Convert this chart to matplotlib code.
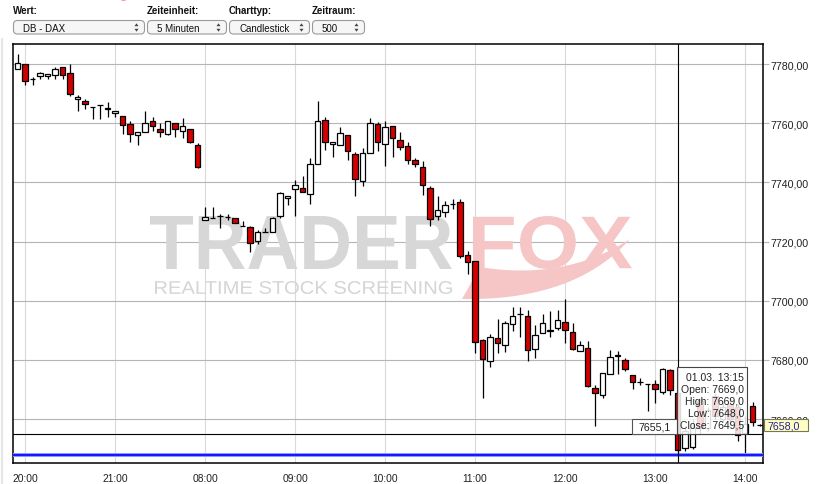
import matplotlib
matplotlib.use("Agg")
import matplotlib.pyplot as plt
import matplotlib.transforms as mtransforms
from matplotlib.patches import Rectangle, FancyBboxPatch, PathPatch, Ellipse, Polygon
from matplotlib.textpath import TextPath
from matplotlib.font_manager import FontProperties
from matplotlib.path import Path
import numpy as np

plt.rcParams['font.family'] = ['Liberation Sans', 'DejaVu Sans']

# ---------------- data ----------------
def session(start_h, start_m, n):
    out = []
    for k in range(n):
        t = start_h * 60 + start_m + 5 * k
        out.append(f"{t // 60:02d}:{t % 60:02d}")
    return out

times = session(19, 55, 25) + session(8, 0, 75)

opens = [7778.2, 7779.9, 7775.0, 7775.8, 7776.0, 7776.2, 7778.9, 7776.9, 7768.3, 7767.4,
         7765.5, 7766.0, 7764.8, 7763.5, 7762.3, 7759.6, 7755.9, 7756.9, 7760.6, 7757.9,
         7756.2, 7760.0, 7757.3, 7757.9, 7752.5, 7727.2, 7727.9, 7728.6, 7728.3, 7727.9,
         7725.3, 7724.8, 7720.1, 7723.1, 7723.1, 7728.5, 7734.8, 7737.7, 7738.0, 7736.0,
         7746.1, 7761.0, 7753.0, 7752.5, 7755.9, 7749.5, 7740.4, 7749.8, 7759.6, 7752.9,
         7759.0, 7754.2, 7752.2, 7747.5, 7745.1, 7738.0, 7728.5, 7730.0, 7732.6, 7733.3,
         7715.4, 7713.3, 7686.7, 7679.6, 7687.4, 7685.0, 7692.1, 7695.5, 7694.9, 7683.6,
         7689.0, 7689.8, 7690.8, 7692.7, 7689.4, 7683.2, 7684.2, 7670.6, 7668.1, 7675.3,
         7681.3, 7680.1, 7675.0, 7672.4, 7671.9, 7671.9, 7669.2, 7676.7, 7669.0, 7650.3,
         7650.5, 7666.0, 7657.0, 7668.0, 7660.0, 7665.0, 7664.0, 7655.5, 7664.6, 7658.0]
highs = [7783.4, 7780.0, 7775.7, 7777.3, 7776.5, 7778.9, 7778.9, 7780.0, 7769.5, 7768.2,
         7765.5, 7766.0, 7767.2, 7764.0, 7762.3, 7760.6, 7756.9, 7764.0, 7762.1, 7760.0,
         7760.8, 7760.0, 7761.8, 7757.9, 7753.2, 7731.6, 7731.7, 7729.2, 7729.2, 7727.9,
         7726.9, 7725.2, 7723.8, 7724.5, 7728.3, 7736.7, 7735.5, 7740.8, 7742.2, 7748.1,
         7767.4, 7762.0, 7753.6, 7758.7, 7756.0, 7750.4, 7751.5, 7761.8, 7760.3, 7760.6,
         7759.2, 7756.9, 7753.6, 7748.1, 7747.1, 7738.7, 7735.3, 7733.6, 7734.3, 7734.3,
         7716.7, 7713.5, 7687.0, 7688.7, 7693.8, 7693.1, 7698.0, 7698.0, 7696.9, 7691.7,
         7695.5, 7696.5, 7696.9, 7700.6, 7692.6, 7686.3, 7686.3, 7671.5, 7675.7, 7683.4,
         7683.2, 7680.7, 7675.0, 7674.0, 7671.9, 7673.2, 7677.3, 7677.1, 7669.0, 7657.0,
         7660.0, 7667.0, 7664.0, 7669.0, 7666.0, 7667.0, 7665.0, 7661.0, 7665.7, 7658.5]
lows = [7778.2, 7773.0, 7773.0, 7775.0, 7775.0, 7775.0, 7775.0, 7769.3, 7764.2, 7764.7,
        7761.3, 7761.3, 7762.2, 7762.0, 7756.2, 7753.8, 7752.8, 7756.9, 7757.3, 7755.2,
        7756.0, 7755.2, 7754.9, 7753.3, 7745.0, 7727.2, 7727.9, 7724.5, 7727.4, 7726.2,
        7725.3, 7716.6, 7719.3, 7723.1, 7723.1, 7727.9, 7732.5, 7728.8, 7736.6, 7732.6,
        7746.1, 7750.8, 7748.7, 7752.5, 7747.5, 7735.5, 7738.9, 7749.8, 7750.7, 7745.7,
        7748.7, 7750.9, 7746.1, 7745.1, 7735.6, 7725.2, 7727.2, 7728.2, 7730.9, 7714.4,
        7709.0, 7682.3, 7667.1, 7677.5, 7682.3, 7682.6, 7689.7, 7687.7, 7679.6, 7680.6,
        7689.0, 7687.7, 7690.0, 7685.7, 7683.4, 7683.2, 7671.0, 7657.6, 7667.2, 7675.3,
        7675.3, 7676.3, 7670.3, 7671.4, 7662.8, 7665.4, 7668.6, 7668.2, 7648.0, 7649.4,
        7650.0, 7655.0, 7656.0, 7660.0, 7659.0, 7658.0, 7652.6, 7648.0, 7657.8, 7657.6]
closes = [7780.2, 7774.2, 7775.0, 7776.9, 7776.5, 7778.2, 7776.2, 7769.8, 7768.8, 7766.4,
          7765.5, 7766.0, 7765.3, 7764.0, 7759.3, 7756.4, 7756.9, 7760.0, 7759.0, 7756.9,
          7760.6, 7757.9, 7759.0, 7753.6, 7745.1, 7728.2, 7727.9, 7728.6, 7728.3, 7726.2,
          7725.3, 7719.4, 7723.1, 7723.1, 7727.9, 7736.3, 7735.3, 7739.0, 7736.6, 7746.1,
          7760.6, 7753.6, 7753.5, 7756.6, 7750.5, 7741.0, 7750.0, 7760.0, 7753.6, 7758.6,
          7754.9, 7751.9, 7747.5, 7746.1, 7739.0, 7727.6, 7730.6, 7732.3, 7732.6, 7715.1,
          7713.0, 7686.0, 7680.3, 7687.7, 7685.7, 7692.4, 7694.9, 7695.5, 7683.3, 7688.3,
          7692.4, 7690.3, 7693.4, 7690.0, 7683.7, 7685.2, 7671.2, 7668.9, 7675.7, 7681.1,
          7681.8, 7677.1, 7672.4, 7672.4, 7671.9, 7670.1, 7677.1, 7669.8, 7649.5, 7656.0,
          7657.0, 7657.0, 7663.0, 7661.0, 7664.0, 7660.0, 7654.6, 7658.5, 7659.0, 7658.0]

xtick_labels = ["20:00", "21:00", "08:00", "09:00", "10:00", "11:00", "12:00", "13:00", "14:00"]
ytick_values = [7660, 7680, 7700, 7720, 7740, 7760, 7780]
ytick_labels = [f"{v:.2f}".replace(".", ",") for v in ytick_values]

tooltip_date = "01.03."
tooltip_time = "13:15"
marker_level = 7655.1
low_line = 7648.0

wert_label, wert_value = "Wert:", "DB - DAX"
zeit_label, zeit_value = "Zeiteinheit:", "5 Minuten"
typ_label, typ_value = "Charttyp:", "Candlestick"
raum_label, raum_value = "Zeitraum:", "500"

# ---------------- figure ----------------
W, H = 822, 485
fig = plt.figure(figsize=(W / 100, H / 100), dpi=100)
fig.patch.set_facecolor("white")
px = mtransforms.Affine2D().scale(1 / W, -1 / H).translate(0, 1) + fig.transFigure

AX_L, AX_R, AX_T, AX_B = 13, 763, 45, 464
ax = fig.add_axes([AX_L / W, (H - AX_B) / H, (AX_R - AX_L) / W, (AX_B - AX_T) / H])
YMIN, YMAX = 7645.2, 7786.76
ax.set_xlim(-0.6, 99.4)
ax.set_ylim(YMIN, YMAX)

def ypx(v):
    return AX_B - (v - YMIN) / (YMAX - YMIN) * (AX_B - AX_T)

idx = np.arange(len(times))
O = np.array(opens); Hh = np.array(highs); L = np.array(lows); C = np.array(closes)

ax.set_axisbelow(True)
ax.set_yticks(ytick_values)
ax.set_yticklabels(ytick_labels)
ax.yaxis.tick_right()
xt = [times.index(t) for t in xtick_labels]
ax.set_xticks(xt)
ax.set_xticklabels(xtick_labels)
ax.grid(axis="y", color="#b5b5b5", lw=0.8)
ax.grid(axis="x", color="#dadada", lw=0.8)
ax.tick_params(axis="y", length=4, width=0.8, color="#b5b5b5", pad=1.5, labelsize=7.7, labelcolor="#222222")
ax.tick_params(axis="x", length=0, pad=7, labelsize=7.4, labelcolor="#222222")
for s in ax.spines.values():
    s.set_color("black")
    s.set_linewidth(1.1)

# ---------------- watermark ----------------
def fit_text(s, x0, x1, y0, y1, color, weight="bold"):
    tp = TextPath((0, 0), s, size=100, prop=FontProperties(family="Liberation Sans", weight=weight))
    bb = tp.get_extents()
    tr = mtransforms.Affine2D().translate(-bb.x0, -bb.y0).scale((x1 - x0) / bb.width, -(y1 - y0) / bb.height).translate(x0, y1)
    patch = PathPatch(tr.transform_path(tp), facecolor=color, edgecolor="none", transform=px, zorder=1)
    ax.add_patch(patch)

fit_text("TRADER", 150, 452, 217, 270, "#d7d7d7")
fit_text("FOX", 473, 632, 217, 270, "#f6c6c6")
fit_text("REALTIME STOCK SCREENING", 155, 452, 282, 295, "#d5d5d5", weight="normal")

def qbez(p0, p1, p2, n=30):
    t = np.linspace(0, 1, n)[:, None]
    return (1 - t) ** 2 * np.array(p0) + 2 * (1 - t) * t * np.array(p1) + t ** 2 * np.array(p2)

lower = qbez((462, 300), (575, 302), (630, 240))
upper = qbez((630, 240), (565, 282), (480, 268))
sw = np.vstack([lower, upper])
ax.add_patch(Polygon(sw, closed=True, facecolor="#f6c6c6", edgecolor="none", transform=px, zorder=1))

# ---------------- candles ----------------
up = C >= O
body_bot = np.minimum(O, C)
body_h = np.abs(C - O)
colors = np.where(up, "white", "#d40000")
ax.vlines(idx, L, Hh, color="black", lw=0.9, zorder=3)
ax.bar(idx, body_h, bottom=body_bot, width=0.74, color=colors, edgecolor="black", linewidth=0.9, zorder=4)

# ---------------- lines ----------------
tip = times.index(tooltip_time)
ax.axhline(low_line, color="#8494ff", lw=2.8, zorder=5)
ax.axhline(low_line, color="#0000ff", lw=1.2, zorder=5.1)
ax.axhline(marker_level, color="black", lw=0.8, zorder=6)
ax.axvline(tip, color="black", lw=0.8, zorder=6)

fmt = lambda v: f"{v:.1f}".replace(".", ",")

# tooltip
tx0 = 677
ax.add_patch(Rectangle((tx0, 368), 70, ypx(marker_level) - 368, facecolor="white", alpha=0.85,
                       edgecolor="none", transform=px, zorder=7, clip_on=False))
ax.add_patch(Rectangle((tx0, 368), 70, ypx(marker_level) - 368, facecolor="none",
                       edgecolor="#444444", lw=0.8, transform=px, zorder=7.1, clip_on=False))
lines = [f"{tooltip_date} {tooltip_time}", f"Open: {fmt(opens[tip])}", f"High: {fmt(highs[tip])}",
         f"Low: {fmt(lows[tip])}", f"Close: {fmt(closes[tip])}"]
for k, s in enumerate(lines):
    ax.text(744, 378 + 11.9 * k, s, transform=px, ha="right", va="center", fontsize=7.5,
            color="#222222", zorder=8, clip_on=False)

# marker level label
yl = ypx(marker_level)
ax.add_patch(Rectangle((632, yl - 14.5), 45, 14.5, facecolor="white", edgecolor="#555555", lw=0.8,
                       transform=px, zorder=7, clip_on=False))
ax.text(654.5, yl - 7, fmt(marker_level), transform=px, ha="center", va="center", fontsize=7.7,
        color="#222222", zorder=8, clip_on=False)

# last price label
yc = ypx(closes[-1])
ax.add_patch(Rectangle((764, yc - 6), 44, 12, facecolor="#ffffc4", edgecolor="#777755", lw=0.8,
                       transform=px, zorder=9, clip_on=False))
ax.text(767, yc, fmt(closes[-1]), transform=px, ha="left", va="center", fontsize=7.7,
        color="#23239a", zorder=10, clip_on=False)

# ---------------- header ----------------
fig.add_artist(Ellipse((123.5, -7), 17, 17, facecolor="#e53935", edgecolor="none", transform=px))
fig.add_artist(matplotlib.lines.Line2D([1.5, 1.5], [40, 485], color="#e6e6e6", lw=1.5, transform=px))

boxes = [(wert_label, wert_value, 13, 145), (zeit_label, zeit_value, 147, 227),
         (typ_label, typ_value, 229, 310), (raum_label, raum_value, 312, 365)]
for lab, val, x0, x1 in boxes:
    fig.text(x0 / W, 1 - 11.5 / H, lab, fontsize=7, fontweight="bold", color="#111111", va="center", ha="left")
    fig.add_artist(FancyBboxPatch((x0 + 0.5, 21.5), x1 - x0 - 1, 13.5,
                                  boxstyle="round,pad=0,rounding_size=4",
                                  facecolor="#f6f6f6", edgecolor="#9a9a9a", lw=0.8, transform=px))
    fig.text((x0 + 10) / W, 1 - 28.5 / H, val, fontsize=7, color="#111111", va="center", ha="left")
    ax_ = x1 - 8.5
    fig.add_artist(Polygon([(ax_ - 2, 27.2), (ax_ + 2, 27.2), (ax_, 24.3)], closed=True,
                           facecolor="#444444", edgecolor="none", transform=px))
    fig.add_artist(Polygon([(ax_ - 2, 29.8), (ax_ + 2, 29.8), (ax_, 32.7)], closed=True,
                           facecolor="#444444", edgecolor="none", transform=px))

fig.savefig("out.png", dpi=100, facecolor="white")
